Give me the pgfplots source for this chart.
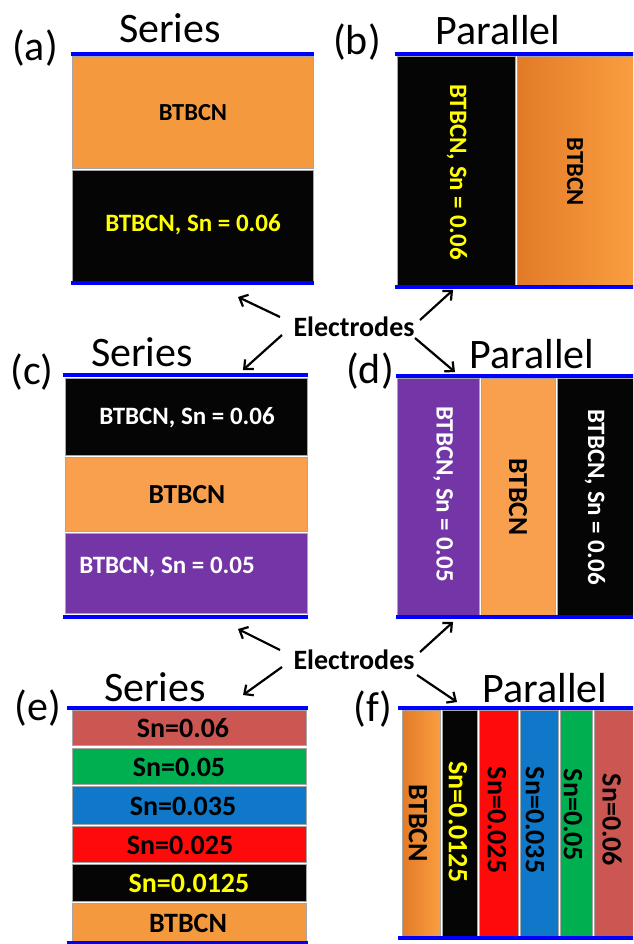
\documentclass[border=0pt]{standalone}
\usepackage{pgfplots}
\pgfplotsset{compat=1.18}
\usetikzlibrary{arrows.meta}
\usepackage{fontspec}
\setmainfont{Carlito}
\definecolor{eblue}{RGB}{0,0,255}
\definecolor{orgA}{RGB}{245,153,62}
\definecolor{orgD}{RGB}{226,122,40}
\definecolor{orgL}{RGB}{250,158,64}
\definecolor{orgC}{RGB}{249,160,79}
\definecolor{blk}{RGB}{5,5,5}
\definecolor{purp}{RGB}{116,54,166}
\definecolor{snsix}{RGB}{204,86,81}
\definecolor{sngreen}{RGB}{0,176,80}
\definecolor{snblue}{RGB}{15,120,200}
\definecolor{snred}{RGB}{255,10,10}
\definecolor{ylw}{RGB}{255,255,0}
\newcommand{\rect}[5]{\addplot[fill=#5, draw=black!35, line width=0.6pt] coordinates {(#1,#2) (#3,#2) (#3,#4) (#1,#4)} -- cycle;}
\newcommand{\grect}[6]{\addplot[left color=#5, right color=#6, draw=black!35, line width=0.6pt] coordinates {(#1,#2) (#3,#2) (#3,#4) (#1,#4)} -- cycle;}
\newcommand{\elec}[3]{\addplot[eblue, line width=4pt] coordinates {(#1,#3) (#2,#3)};}
\newcommand{\arr}[4]{\addplot[-{Straight Barb[length=7pt,width=13pt]}, line width=2.2pt, black] coordinates {(#1,#2) (#3,#4)};}
\newcommand{\bigf}{\fontsize{42}{44}\selectfont}
\newcommand{\lab}{\fontsize{25}{27}\selectfont\bfseries}
\newcommand{\labb}{\fontsize{28}{30}\selectfont\bfseries}
\begin{document}
\begin{tikzpicture}
\begin{axis}[width=633pt, height=944pt, scale only axis,
  xmin=0, xmax=633, ymin=0, ymax=944, y dir=reverse,
  axis lines=none, ticks=none, clip=true]
\coordinate (SW) at (rel axis cs:0,0);
\coordinate (NE) at (rel axis cs:1,1);
% (a) series
\rect{72}{56}{313}{168}{orgA}
\rect{72}{170}{313}{281}{blk}
\elec{71}{314}{54}
\elec{71}{314}{283}
% (b) parallel
\rect{397}{56}{515}{285}{blk}
\grect{517}{56}{634}{285}{orgD}{orgL}
\elec{395}{634}{54}
\elec{395}{634}{287}
% (c) series
\rect{65}{378}{307}{455}{blk}
\rect{65}{457}{307}{531}{orgC}
\rect{65}{533}{307}{613}{purp}
\elec{63}{308}{375}
\elec{63}{308}{617}
% (d) parallel
\rect{397}{378}{479}{615}{purp}
\rect{481}{378}{555}{615}{orgC}
\rect{557}{378}{634}{615}{blk}
\elec{396}{634}{376}
\elec{396}{634}{617}
% (e) series
\rect{72}{710}{306}{745}{snsix}
\rect{72}{748}{306}{784}{sngreen}
\rect{72}{786}{306}{824}{snblue}
\rect{72}{826}{306}{862}{snred}
\rect{72}{864}{306}{901}{blk}
\rect{72}{903}{306}{941}{orgA}
\elec{67}{308}{708}
\elec{67}{308}{943}
% (f) parallel
\grect{402}{710}{440}{936}{orgD}{orgL}
\rect{442}{710}{477}{936}{blk}
\rect{479}{710}{518}{936}{snred}
\rect{520}{710}{558}{936}{snblue}
\rect{560}{710}{592}{936}{sngreen}
\rect{594}{710}{634}{936}{snsix}
\elec{398}{634}{708}
\elec{398}{634}{938}
% arrows
\arr{280}{317}{238}{297}
\arr{282}{335}{243}{370}
\arr{420}{320}{453}{290}
\arr{415}{338}{455}{372}
\arr{280}{650}{238}{629}
\arr{282}{667}{243}{695}
\arr{420}{652}{453}{622}
\arr{417}{675}{457}{702}
% titles
\node[font=\bigf] at (axis cs:35,48) {(a)};
\node[font=\bigf] at (axis cs:170,28) {Series};
\node[font=\bigf] at (axis cs:357,42) {(b)};
\node[font=\bigf] at (axis cs:498,30) {Parallel};
\node[font=\bigf] at (axis cs:32,372) {(c)};
\node[font=\bigf] at (axis cs:142,352) {Series};
\node[font=\bigf] at (axis cs:370,371) {(d)};
\node[font=\bigf] at (axis cs:532,354) {Parallel};
\node[font=\bigf] at (axis cs:38,708) {(e)};
\node[font=\bigf] at (axis cs:155,687) {Series};
\node[font=\bigf] at (axis cs:373,709) {(f)};
\node[font=\bigf] at (axis cs:545,688) {Parallel};
\node[font=\labb] at (axis cs:354,327) {Electrodes};
\node[font=\labb] at (axis cs:354,660) {Electrodes};
% layer labels (a)
\node[font=\fontsize{24.5}{26}\selectfont\bfseries] at (axis cs:193,113) {BTBCN};
\node[font=\lab, text=ylw] at (axis cs:193,225) {BTBCN, Sn = 0.06};
% (b)
\node[font=\lab, text=ylw, rotate=-90] at (axis cs:457,172) {BTBCN, Sn = 0.06};
\node[font=\fontsize{24.5}{26}\selectfont\bfseries, rotate=-90] at (axis cs:575,172) {BTBCN};
% (c)
\node[font=\lab, text=white] at (axis cs:187,418) {BTBCN, Sn = 0.06};
\node[font=\fontsize{27.5}{29}\selectfont\bfseries] at (axis cs:187,495) {BTBCN};
\node[font=\lab, text=white] at (axis cs:167,567) {BTBCN, Sn = 0.05};
% (d)
\node[font=\lab, text=white, rotate=-90] at (axis cs:443,494) {BTBCN, Sn = 0.05};
\node[font=\fontsize{27.5}{29}\selectfont\bfseries, rotate=-90] at (axis cs:518,497) {BTBCN};
\node[font=\lab, text=white, rotate=-90] at (axis cs:595,497) {BTBCN, Sn = 0.06};
% (e)
\node[font=\labb] at (axis cs:183,728) {Sn=0.06};
\node[font=\labb] at (axis cs:179,767) {Sn=0.05};
\node[font=\labb] at (axis cs:183,806) {Sn=0.035};
\node[font=\labb] at (axis cs:180,845) {Sn=0.025};
\node[font=\labb, text=ylw] at (axis cs:189,883) {Sn=0.0125};
\node[font=\labb] at (axis cs:188,923) {BTBCN};
% (f)
\node[font=\labb, rotate=-90] at (axis cs:418,823) {BTBCN};
\node[font=\labb, text=ylw, rotate=-90] at (axis cs:458,822) {Sn=0.0125};
\node[font=\labb, rotate=-90] at (axis cs:497,820) {Sn=0.025};
\node[font=\labb, rotate=-90] at (axis cs:535,820) {Sn=0.035};
\node[font=\labb, rotate=-90] at (axis cs:573,815) {Sn=0.05};
\node[font=\labb, rotate=-90] at (axis cs:612,820) {Sn=0.06};
\end{axis}
\pgfresetboundingbox
\path (SW) rectangle (NE);
\end{tikzpicture}
\end{document}
